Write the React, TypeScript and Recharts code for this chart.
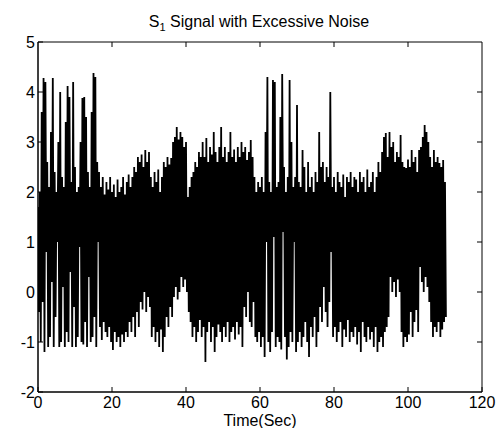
import React from 'react';
import { LineChart, Line, XAxis, YAxis, ReferenceArea, ReferenceLine } from 'recharts';

const TIME_STEP = 0.5;

// upper excursion of the signal every 0.5 s (0 .. 110 s)
const HI = [
  1.7, 2.0, 3.6, 4.28, 4.2, 2.6, 2.1, 3.2, 4.28, 2.4,
  2.0, 3.0, 4.0, 2.3, 2.1, 3.4, 4.12, 3.9, 2.2, 4.2,
  2.5, 2.0, 2.1, 3.0, 3.88, 3.9, 3.5, 2.4, 2.1, 3.6,
  4.38, 4.3, 2.6, 2.4, 2.1, 2.3, 1.95, 2.2, 2.05, 2.3,
  2.0, 2.15, 1.9, 2.25, 2.0, 2.1, 2.3, 1.95, 2.2, 2.35,
  2.1, 2.3, 2.5, 2.4, 2.7, 2.6, 2.75, 2.5, 2.84, 2.6,
  2.8, 2.3, 2.1, 2.4, 2.2, 2.45, 2.0, 2.3, 2.6, 2.5,
  2.7, 2.55, 2.68, 3.0, 3.1, 3.3, 3.05, 3.2, 3.1, 2.9,
  3.0, 1.9, 2.1, 2.3, 2.4, 2.6, 2.5, 2.8, 2.7, 3.0,
  2.7, 3.08, 2.6, 2.9, 2.75, 3.2, 2.8, 2.6, 2.9, 3.3,
  2.7, 2.9, 2.6, 2.8, 3.2, 2.7, 2.85, 2.6, 2.9, 2.7,
  3.0, 2.8, 2.9, 2.64, 2.8, 3.04, 2.7, 2.3, 2.0, 2.2,
  2.1, 2.3, 2.0, 3.2, 4.3, 2.2, 2.0, 4.24, 4.2, 2.1,
  2.2, 3.5, 4.36, 2.5, 2.0, 2.3, 4.24, 3.0, 2.1, 2.3,
  3.74, 2.2, 2.1, 2.84, 2.5, 2.0, 2.6, 2.1, 2.3, 2.0,
  2.4, 2.2, 3.2, 2.5, 2.6, 2.2, 2.5, 2.3, 4.0, 2.1,
  2.3, 2.0, 2.4, 2.2, 2.1, 2.35, 1.9, 2.3, 2.2, 2.4,
  2.1, 2.3, 2.25, 2.0, 2.4, 2.2, 2.3, 2.0, 2.45, 2.1,
  2.2, 2.4, 2.0, 2.3, 2.6, 2.4, 2.8, 3.1, 3.18, 2.7,
  3.2, 2.9, 3.0, 2.6, 2.8, 2.7, 3.14, 2.6, 2.5, 2.48,
  2.65, 2.5, 2.84, 2.6, 2.7, 2.4, 2.84, 2.9, 3.1, 3.34,
  3.2, 3.0, 2.7, 2.5, 2.84, 2.6, 2.7, 2.58, 2.5, 2.64,
  2.2,
];

// lower excursion of the signal, a quarter step after each upper one
const LO = [
  -0.4, -1.0, -0.2, -1.2, 0.8, -1.1, -0.9, 0.2, -1.1, -0.5,
  1.0, -1.1, -1.0, 0.1, -1.1, -0.8, -1.0, 0.4, -1.1, -0.3,
  -1.1, -0.9, 0.9, -1.0, -1.05, -0.6, -1.1, 0.3, -1.0, -0.9,
  -0.5, -1.1, 1.0, -0.7, -0.96, -0.6, -0.8, -0.9, -0.7, -1.0,
  -1.16, -0.8, -1.0, -0.9, -1.1, -0.85, -1.0, -0.8, -0.9, -0.6,
  -0.8, -0.5, -0.9, -0.4, -0.7, -0.2, -0.35, 0.0, -0.4, -0.1,
  -0.3, -0.9, -0.7, -1.0, -0.8, -1.1, -0.75, -1.2, -0.9, -0.5,
  -0.7, -0.3, -0.5, -0.1, 0.1, -0.15, 0.0, 0.3, 0.1, 0.25,
  0.0, -0.4, -0.6, -0.9, -0.7, -1.0, -0.8, -0.56, -0.9, -0.7,
  -1.4, -0.8, -0.6, -1.0, -0.7, -1.2, -0.9, -0.65, -0.8, -1.0,
  -0.7, -0.9, -0.6, -1.0, -0.8, -0.7, -0.95, -0.6, -0.85, -0.7,
  -1.1, -0.3, -0.5, 0.0, -0.6, -0.7, -0.2, -0.9, -1.0, -0.8,
  -1.1, -0.9, -1.3, 1.0, -1.0, -1.2, -0.8, 1.1, -1.1, -0.9,
  -1.0, -1.15, 1.2, -0.9, -1.35, -1.1, -0.8, -1.0, 1.0, -1.2,
  -1.0, -0.8, -1.1, -0.9, -0.6, -1.0, -1.3, -0.7, -0.9, -0.5,
  -1.1, -0.8, -0.3, -0.6, 0.1, -0.4, -0.7, -0.2, 0.8, -0.9,
  -0.7, -1.0, -0.8, -0.6, -1.1, -0.75, -0.9, -0.56, -1.0, -0.8,
  -0.9, -0.7, -1.05, -0.8, -1.2, -0.6, -0.9, -1.0, -0.7, -0.95,
  -0.8, -1.1, -0.7, -1.2, -1.0, -0.9, -1.1, -0.8, -0.7, -0.5,
  0.3, 0.0, 0.2, -0.1, 0.25, 0.0, -0.8, -1.1, -0.9, -1.0,
  -0.85, -0.4, -0.9, -0.6, -0.36, -0.8, 0.5, 0.2, 0.0, 0.3,
  0.1, -0.2, -0.6, -0.9, -0.7, -0.8, -0.6, -0.9, -0.75, -0.6,
  -0.5,
];

const X_TICKS = [0, 20, 40, 60, 80, 100, 120];
const Y_TICKS = [-2, -1, 0, 1, 2, 3, 4, 5];
const X_DOMAIN: [number, number] = [0, 120];
const Y_DOMAIN: [number, number] = [-2, 5];
const TITLE_MAIN = 'S';
const TITLE_SUB = '1';
const TITLE_REST = ' Signal with Excessive Noise';
const X_LABEL = 'Time(Sec)';

const FONT = '"Liberation Sans", Arial, Helvetica, sans-serif';
// inward tick lengths expressed in data units (5 px on each axis)
const X_TICK_LEN = 1.35;
const Y_TICK_LEN = 0.1;

const data: { t: number; v: number }[] = [];
HI.forEach((h, i) => {
  data.push({ t: i * TIME_STEP, v: h });
  if (i < LO.length) data.push({ t: i * TIME_STEP + TIME_STEP / 2, v: LO[i] });
});

export default function App() {
  const tickStyle = { fill: '#000', fontSize: 16, fontFamily: FONT };
  return (
    <div style={{ position: 'absolute', left: 0, top: 0, width: 496, height: 428, background: '#fff' }}>
      <div
        style={{
          position: 'absolute',
          left: 0,
          width: 518,
          top: 13.5,
          textAlign: 'center',
          fontFamily: FONT,
          fontSize: 16,
          lineHeight: '16px',
          color: '#000',
          whiteSpace: 'nowrap',
        }}
      >
        {TITLE_MAIN}
        <span style={{ fontSize: 11, position: 'relative', top: 4 }}>{TITLE_SUB}</span>
        {TITLE_REST}
      </div>
      <LineChart width={496} height={428} data={data} margin={{ top: 42, right: 14, bottom: 0, left: 0 }}>
        <XAxis
          dataKey="t"
          type="number"
          domain={X_DOMAIN}
          ticks={X_TICKS}
          interval={0}
          height={36}
          tickSize={-5}
          tickMargin={10}
          tick={tickStyle}
          axisLine={{ stroke: '#000', strokeWidth: 1 }}
          tickLine={{ stroke: '#000' }}
          allowDataOverflow
          label={{ value: X_LABEL, position: 'insideBottom', offset: 2, fill: '#000', fontSize: 16, fontFamily: FONT }}
        />
        <YAxis
          type="number"
          domain={Y_DOMAIN}
          ticks={Y_TICKS}
          interval={0}
          width={38}
          tickSize={-5}
          tickMargin={8}
          tick={tickStyle}
          axisLine={{ stroke: '#000', strokeWidth: 1 }}
          tickLine={{ stroke: '#000' }}
          allowDataOverflow
        />
        <Line
          type="linear"
          dataKey="v"
          stroke="#000"
          strokeWidth={1.8}
          strokeLinejoin="bevel"
          dot={false}
          activeDot={false}
          isAnimationActive={false}
        />
        <ReferenceArea
          x1={X_DOMAIN[0]}
          x2={X_DOMAIN[1]}
          y1={Y_DOMAIN[0]}
          y2={Y_DOMAIN[1]}
          fill="none"
          fillOpacity={0}
          stroke="#000"
          strokeWidth={1}
        />
        {X_TICKS.slice(1, -1).map((x) => (
          <ReferenceLine
            key={'tx' + x}
            segment={[
              { x, y: Y_DOMAIN[1] },
              { x, y: Y_DOMAIN[1] - Y_TICK_LEN },
            ]}
            stroke="#000"
            strokeWidth={1}
          />
        ))}
        {Y_TICKS.slice(1, -1).map((y) => (
          <ReferenceLine
            key={'ty' + y}
            segment={[
              { x: X_DOMAIN[1], y },
              { x: X_DOMAIN[1] - X_TICK_LEN, y },
            ]}
            stroke="#000"
            strokeWidth={1}
          />
        ))}
      </LineChart>
    </div>
  );
}
